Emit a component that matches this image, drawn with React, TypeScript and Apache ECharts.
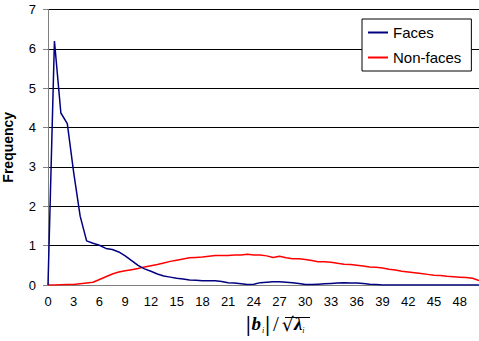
import React, { useEffect, useRef } from "react";
import * as echarts from "echarts";

// category values: |b_i|/sqrt(lambda_i) in steps of 0.75
const categories: string[] = [
  "0","0.75","1.5","2.25","3","3.75","4.5","5.25","6","6.75","7.5","8.25","9","9.75","10.5","11.25",
  "12","12.75","13.5","14.25","15","15.75","16.5","17.25","18","18.75","19.5","20.25","21","21.75","22.5","23.25",
  "24","24.75","25.5","26.25","27","27.75","28.5","29.25","30","30.75","31.5","32.25","33","33.75","34.5","35.25",
  "36","36.75","37.5","38.25","39","39.75","40.5","41.25","42","42.75","43.5","44.25","45","45.75","46.5","47.25",
  "48","48.75","49.5","50.25"
];

const faces: number[] = [
  0, 6.2, 4.37, 4.1, 2.85, 1.75, 1.12, 1.06, 1.01, 0.93, 0.9, 0.84, 0.74, 0.62, 0.5, 0.41,
  0.35, 0.28, 0.23, 0.2, 0.17, 0.15, 0.13, 0.12, 0.11, 0.11, 0.11, 0.09, 0.06, 0.05, 0.03, 0.01,
  0.02, 0.06, 0.07, 0.08, 0.08, 0.07, 0.06, 0.04, 0.01, 0.01, 0.02, 0.03, 0.04, 0.05, 0.06, 0.05,
  0.05, 0.04, 0.02, 0.01, 0, 0, 0, 0, 0, 0, 0, 0, 0, 0, 0, 0,
  0, 0, 0, 0
];

const nonFaces: number[] = [
  0, 0, 0.005, 0.01, 0.01, 0.03, 0.05, 0.07, 0.14, 0.21, 0.28, 0.33, 0.36, 0.39, 0.42, 0.46,
  0.49, 0.52, 0.56, 0.6, 0.63, 0.66, 0.69, 0.7, 0.71, 0.73, 0.75, 0.75, 0.75, 0.76, 0.76, 0.78,
  0.76, 0.76, 0.74, 0.7, 0.73, 0.69, 0.67, 0.67, 0.65, 0.62, 0.59, 0.59, 0.58, 0.55, 0.53, 0.52,
  0.5, 0.48, 0.46, 0.45, 0.43, 0.4, 0.38, 0.35, 0.33, 0.31, 0.29, 0.27, 0.25, 0.24, 0.22, 0.21,
  0.2, 0.19, 0.17, 0.11
];

const seriesNames: string[] = ["Faces", "Non-faces"];
const yAxisTitle = "Frequency";

const FONT = "'Liberation Sans', Arial, sans-serif";
const SERIF = "'Liberation Serif', 'Times New Roman', serif";

export default function App() {
  const ref = useRef<HTMLDivElement>(null);

  useEffect(() => {
    if (!ref.current) return;
    const chart = echarts.init(ref.current, undefined, { renderer: "svg" });
    chart.setOption({
      animation: false,
      backgroundColor: "#ffffff",
      textStyle: { fontFamily: FONT },
      grid: {
        left: 48,
        right: 0,
        top: 9.5,
        bottom: 56,
        containLabel: false,
        outerBoundsMode: "none",
      },
      legend: {
        orient: "vertical",
        left: 362,
        top: 19,
        padding: [6, 10, 6, 6],
        itemGap: 10,
        itemWidth: 20,
        itemHeight: 2,
        itemTextGap: 3,
        icon: "rect",
        borderColor: "#000000",
        borderWidth: 1,
        backgroundColor: "#ffffff",
        textStyle: { fontFamily: FONT, fontSize: 15, color: "#000000" },
        data: seriesNames,
      },
      xAxis: {
        type: "category",
        data: categories,
        boundaryGap: false,
        axisLine: { lineStyle: { color: "#808080", width: 1 } },
        axisTick: { show: false },
        axisLabel: {
          interval: 3,
          margin: 10,
          color: "#000000",
          fontSize: 13,
          fontFamily: FONT,
        },
        splitLine: { show: false },
      },
      yAxis: {
        type: "value",
        min: 0,
        max: 7,
        interval: 1,
        name: yAxisTitle,
        nameLocation: "middle",
        nameGap: 33,
        nameTextStyle: { fontFamily: FONT, fontSize: 14, fontWeight: "bold", color: "#000000" },
        axisLine: { show: true, lineStyle: { color: "#808080", width: 1 } },
        axisTick: { show: true, inside: false, length: 5, lineStyle: { color: "#808080" } },
        axisLabel: { margin: 12, color: "#000000", fontSize: 13, fontFamily: FONT },
        splitLine: { show: true, lineStyle: { color: "#000000", width: 1 } },
      },
      series: [
        {
          name: seriesNames[0],
          type: "line",
          data: faces,
          symbol: "none",
          color: "#000080",
          lineStyle: { color: "#000080", width: 1.5 },
          silent: true,
          z: 3,
        },
        {
          name: seriesNames[1],
          type: "line",
          data: nonFaces,
          symbol: "none",
          color: "#ff0000",
          lineStyle: { color: "#ff0000", width: 1.5 },
          silent: true,
          z: 2,
        },
      ],
      graphic: [
        {
          type: "text",
          left: 246,
          top: 313,
          style: {
            text: "{bar||}{b|b}{sub|i}{bar||}{sl|/}{sq|√}{lam|λ}{sub|i}",
            rich: {
              bar: { fontFamily: SERIF, fontSize: 21, fontWeight: "bold", fill: "#000" },
              b: { fontFamily: SERIF, fontSize: 19, fontStyle: "italic", fontWeight: "bold", fill: "#000", padding: [0, 1, 0, 1] },
              sub: { fontFamily: SERIF, fontSize: 8, fontStyle: "italic", fill: "#000", verticalAlign: "bottom", padding: [9, 1, 0, 0] },
              sl: { fontFamily: SERIF, fontSize: 21, fill: "#000", padding: [0, 3, 0, 3] },
              sq: { fontFamily: "'DejaVu Sans', sans-serif", fontSize: 19, fill: "#000" },
              lam: { fontFamily: SERIF, fontSize: 19, fontStyle: "italic", fontWeight: "bold", fill: "#000" },
            },
          },
        },
        {
          type: "line",
          shape: { x1: 285, y1: 317.5, x2: 310, y2: 317.5 },
          style: { stroke: "#000", lineWidth: 1 },
        },
      ],
    });
    return () => chart.dispose();
  }, []);

  return (
    <div
      ref={ref}
      style={{ position: "fixed", left: 0, top: 0, width: 479, height: 341, background: "#fff" }}
    />
  );
}
